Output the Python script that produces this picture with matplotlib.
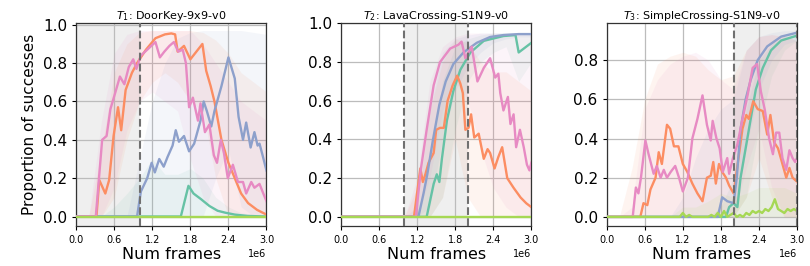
import matplotlib.pyplot as plt
import numpy as np

# colours of the five runs (Set2)
green, orange, blue, pink, lime = '#66c2a5', '#fc8d62', '#8da0cb', '#e78ac3', '#a6d854'

titles = ['$T_1$: DoorKey-9x9-v0', '$T_2$: LavaCrossing-S1N9-v0', '$T_3$: SimpleCrossing-S1N9-v0']
xticks = [0.0, 0.6, 1.2, 1.8, 2.4, 3.0]

# ---- panel 1: DoorKey (x in 1e6 frames) ----
d1_green_x = [0, 1.65, 1.77, 1.85, 1.97, 2.1, 2.23, 2.35, 2.5, 2.7, 3.0]
d1_green_y = [0, 0, 0.16, 0.12, 0.09, 0.055, 0.03, 0.02, 0.01, 0.003, 0.0]
d1_orange_x = [0, 0.32, 0.365, 0.46, 0.52, 0.59, 0.66, 0.71, 0.78, 0.88, 0.96, 1.1, 1.25, 1.4,
               1.5, 1.56, 1.6, 1.7, 1.8, 1.99, 2.05, 2.12, 2.18, 2.29, 2.4, 2.5, 2.6, 2.71, 2.85, 3.0]
d1_orange_y = [0, 0, 0.19, 0.12, 0.19, 0.42, 0.57, 0.45, 0.66, 0.75, 0.80, 0.87, 0.93, 0.95,
               0.955, 0.95, 0.86, 0.89, 0.82, 0.90, 0.76, 0.68, 0.60, 0.40, 0.28, 0.20, 0.12, 0.07, 0.035, 0.01]
d1_blue_x = [0, 0.96, 1.02, 1.12, 1.19, 1.24, 1.31, 1.38, 1.44, 1.52, 1.57, 1.62, 1.70, 1.78, 1.86,
             1.96, 2.01, 2.06, 2.13, 2.18, 2.29, 2.40, 2.50, 2.56, 2.63, 2.68, 2.75, 2.81, 2.86, 2.89, 2.93, 3.0]
d1_blue_y = [0, 0, 0.13, 0.20, 0.28, 0.23, 0.30, 0.26, 0.31, 0.37, 0.45, 0.39, 0.42, 0.34, 0.38,
             0.50, 0.60, 0.55, 0.47, 0.55, 0.68, 0.83, 0.72, 0.52, 0.40, 0.49, 0.36, 0.44, 0.37, 0.38, 0.33, 0.24]
d1_pink_x = [0, 0.31, 0.41, 0.48, 0.54, 0.62, 0.69, 0.76, 0.83, 0.90, 0.95, 1.02, 1.12, 1.25, 1.32,
             1.39, 1.47, 1.54, 1.61, 1.68, 1.73, 1.78, 1.84, 1.92, 1.96, 2.03, 2.10, 2.17, 2.22, 2.28,
             2.33, 2.39, 2.47, 2.55, 2.63, 2.68, 2.76, 2.81, 2.89, 2.95, 3.0]
d1_pink_y = [0, 0, 0.40, 0.42, 0.56, 0.65, 0.73, 0.69, 0.78, 0.82, 0.77, 0.84, 0.87, 0.91, 0.83,
             0.86, 0.89, 0.91, 0.86, 0.87, 0.80, 0.57, 0.62, 0.50, 0.59, 0.44, 0.48, 0.32, 0.28, 0.40,
             0.33, 0.20, 0.27, 0.18, 0.18, 0.12, 0.18, 0.15, 0.17, 0.12, 0.08]
d1_lime_x = [0, 3.0]
d1_lime_y = [0, 0]

# ---- panel 2: LavaCrossing ----
d2_green_x = [0, 1.35, 1.46, 1.51, 1.55, 1.59, 1.67, 1.77, 1.88, 2.04, 2.25, 2.56, 2.75, 2.80, 2.88, 3.0]
d2_green_y = [0, 0, 0.17, 0.22, 0.18, 0.30, 0.50, 0.65, 0.76, 0.85, 0.91, 0.935, 0.94, 0.85, 0.87, 0.90]
d2_orange_x = [0, 1.15, 1.25, 1.29, 1.33, 1.38, 1.46, 1.50, 1.56, 1.62, 1.68, 1.76, 1.83, 1.88, 1.92,
               1.96, 2.01, 2.05, 2.10, 2.17, 2.25, 2.31, 2.35, 2.42, 2.48, 2.54, 2.62, 2.72, 2.83, 2.92, 3.0]
d2_orange_y = [0, 0, 0.25, 0.18, 0.22, 0.28, 0.33, 0.45, 0.46, 0.46, 0.60, 0.68, 0.73, 0.69, 0.64,
               0.45, 0.46, 0.53, 0.41, 0.43, 0.30, 0.35, 0.33, 0.25, 0.31, 0.36, 0.20, 0.15, 0.10, 0.07, 0.05]
d2_blue_x = [0, 1.22, 1.30, 1.36, 1.45, 1.55, 1.65, 1.77, 1.93, 2.14, 2.35, 2.56, 2.8, 3.0]
d2_blue_y = [0, 0, 0.12, 0.22, 0.40, 0.58, 0.70, 0.79, 0.85, 0.90, 0.93, 0.94, 0.945, 0.945]
d2_pink_x = [0, 1.18, 1.26, 1.35, 1.46, 1.56, 1.72, 1.85, 1.90, 1.96, 2.06, 2.15, 2.25, 2.35, 2.43,
             2.48, 2.51, 2.56, 2.63, 2.67, 2.72, 2.76, 2.82, 2.88, 2.93, 2.97, 3.0]
d2_pink_y = [0, 0, 0.25, 0.45, 0.68, 0.80, 0.87, 0.89, 0.906, 0.82, 0.88, 0.70, 0.77, 0.82, 0.72,
             0.74, 0.64, 0.55, 0.62, 0.48, 0.53, 0.36, 0.45, 0.36, 0.27, 0.24, 0.28]
d2_lime_x = [0, 3.0]
d2_lime_y = [0, 0]

# ---- panel 3: SimpleCrossing ----
d3_green_x = [0, 1.88, 1.93, 2.0, 2.06, 2.11, 2.19, 2.27, 2.35, 2.46, 2.59, 2.75, 3.0]
d3_green_y = [0, 0, 0.05, 0.07, 0.05, 0.20, 0.35, 0.50, 0.65, 0.76, 0.85, 0.90, 0.925]
d3_orange_x = [0, 0.53, 0.58, 0.64, 0.69, 0.77, 0.82, 0.87, 0.95, 1.0, 1.06, 1.13, 1.2, 1.27, 1.35,
               1.43, 1.51, 1.58, 1.64, 1.68, 1.72, 1.77, 1.82, 1.88, 1.93, 2.0, 2.06, 2.14, 2.2,
               2.24, 2.31, 2.38, 2.46, 2.53, 2.58, 2.64, 2.7, 2.77, 2.83, 2.88, 2.93, 3.0]
d3_orange_y = [0, 0, 0.07, 0.06, 0.14, 0.20, 0.33, 0.27, 0.47, 0.45, 0.36, 0.36, 0.27, 0.23, 0.17,
               0.12, 0.08, 0.20, 0.21, 0.28, 0.17, 0.27, 0.23, 0.20, 0.16, 0.12, 0.26, 0.45, 0.52,
               0.50, 0.59, 0.55, 0.54, 0.42, 0.52, 0.38, 0.35, 0.27, 0.20, 0.25, 0.20, 0.18]
d3_blue_x = [0, 1.75, 1.82, 1.9, 2.0, 2.05, 2.11, 2.19, 2.27, 2.38, 2.53, 2.75, 3.0]
d3_blue_y = [0, 0, 0.10, 0.08, 0.07, 0.20, 0.45, 0.60, 0.70, 0.80, 0.87, 0.92, 0.94]
d3_pink_x = [0, 0.41, 0.46, 0.5, 0.54, 0.61, 0.66, 0.74, 0.79, 0.85, 0.9, 0.95, 1.01, 1.08, 1.14,
             1.2, 1.28, 1.35, 1.43, 1.51, 1.58, 1.64, 1.67, 1.73, 1.78, 1.83, 1.9, 1.93, 1.99, 2.06,
             2.14, 2.22, 2.3, 2.37, 2.43, 2.49, 2.56, 2.62, 2.67, 2.72, 2.77, 2.83, 2.88, 2.93, 2.97, 3.0]
d3_pink_y = [0, 0, 0.15, 0.12, 0.20, 0.39, 0.32, 0.22, 0.26, 0.20, 0.24, 0.20, 0.23, 0.26, 0.20,
             0.13, 0.20, 0.40, 0.50, 0.62, 0.47, 0.39, 0.49, 0.40, 0.35, 0.23, 0.30, 0.22, 0.30, 0.37,
             0.50, 0.62, 0.76, 0.78, 0.64, 0.55, 0.40, 0.32, 0.43, 0.43, 0.30, 0.24, 0.34, 0.30, 0.28, 0.30]
d3_lime_x = [0, 1.15, 1.2, 1.25, 1.3, 1.35, 1.6, 1.65, 1.7, 1.75, 1.8, 1.85, 1.9, 1.95, 2.0, 2.05,
             2.1, 2.15, 2.2, 2.25, 2.3, 2.35, 2.4, 2.45, 2.5, 2.55, 2.6, 2.65, 2.7, 2.75, 2.8, 2.85,
             2.9, 2.95, 3.0]
d3_lime_y = [0, 0, 0.02, 0.0, 0.01, 0, 0, 0.01, 0, 0.02, 0.0, 0.03, 0, 0.01, 0.02, 0.0,
             0.01, 0.0, 0.02, 0.01, 0.03, 0.02, 0.03, 0.02, 0.04, 0.03, 0.05, 0.09, 0.04, 0.03, 0.02, 0.04,
             0.03, 0.04, 0.03]

# ---- std bands, on a coarse grid ----
bx = [0.0, 0.2, 0.4, 0.6, 0.8, 1.0, 1.2, 1.4, 1.6, 1.8, 2.0, 2.2, 2.4, 2.6, 2.8, 3.0]
zero = [0] * 16

b1_green_hi = [0, 0, 0, 0.05, 0.12, 0.2, 0.3, 0.22, 0.22, 0.25, 0.2, 0.1, 0.05, 0.02, 0.01, 0]
b1_orange_hi = [0, 0, 0.35, 0.75, 0.9, 0.96, 0.97, 0.97, 0.97, 0.97, 0.96, 0.92, 0.85, 0.75, 0.7, 0.65]
b1_orange_lo = [0, 0, 0, 0.1, 0.4, 0.6, 0.7, 0.75, 0.7, 0.6, 0.55, 0.2, 0, 0, 0, 0]
b1_blue_hi = [0, 0, 0, 0, 0, 0.3, 0.6, 0.8, 0.93, 0.96, 0.97, 0.97, 0.97, 0.97, 0.96, 0.95]
b1_blue_lo = [0, 0, 0, 0, 0, 0, 0, 0, 0, 0, 0, 0.2, 0.35, 0.05, 0, 0]
b1_pink_hi = [0, 0, 0.5, 0.85, 0.95, 0.97, 0.97, 0.97, 0.97, 0.97, 0.9, 0.8, 0.7, 0.6, 0.55, 0.5]
b1_pink_lo = [0, 0, 0, 0.15, 0.45, 0.6, 0.65, 0.6, 0.55, 0.3, 0.1, 0, 0, 0, 0, 0]

b2_green_hi = [0, 0, 0, 0, 0, 0, 0, 0.3, 0.7, 0.88, 0.92, 0.94, 0.95, 0.95, 0.95, 0.95]
b2_green_lo = [0, 0, 0, 0, 0, 0, 0, 0, 0.1, 0.45, 0.7, 0.8, 0.85, 0.88, 0.7, 0.8]
b2_orange_hi = [0, 0, 0, 0, 0, 0, 0.15, 0.55, 0.8, 0.92, 0.9, 0.8, 0.75, 0.75, 0.7, 0.65]
b2_orange_lo = [0, 0, 0, 0, 0, 0, 0, 0, 0.1, 0.4, 0.1, 0, 0, 0, 0, 0]
b2_blue_hi = [0, 0, 0, 0, 0, 0, 0.05, 0.55, 0.85, 0.92, 0.94, 0.95, 0.95, 0.95, 0.95, 0.95]
b2_blue_lo = [0, 0, 0, 0, 0, 0, 0, 0.05, 0.4, 0.65, 0.78, 0.85, 0.9, 0.92, 0.93, 0.93]
b2_pink_hi = [0, 0, 0, 0, 0, 0, 0.2, 0.7, 0.88, 0.93, 0.95, 0.95, 0.95, 0.95, 0.95, 0.95]
b2_pink_lo = [0, 0, 0, 0, 0, 0, 0, 0.2, 0.55, 0.7, 0.6, 0.35, 0.15, 0.05, 0, 0]

b3_green_hi = [0, 0, 0, 0, 0, 0, 0, 0, 0, 0.05, 0.2, 0.55, 0.8, 0.88, 0.92, 0.94]
b3_green_lo = [0, 0, 0, 0, 0, 0, 0, 0, 0, 0, 0, 0.1, 0.45, 0.72, 0.85, 0.9]
b3_orange_hi = [0, 0, 0.25, 0.6, 0.78, 0.82, 0.84, 0.82, 0.75, 0.7, 0.72, 0.85, 0.92, 0.93, 0.92, 0.9]
b3_orange_lo = [0, 0, 0, 0, 0, 0, 0, 0, 0, 0, 0, 0.1, 0.3, 0.1, 0, 0]
b3_blue_hi = [0, 0, 0, 0, 0, 0, 0.1, 0.3, 0.45, 0.55, 0.6, 0.85, 0.92, 0.94, 0.95, 0.95]
b3_blue_lo = [0, 0, 0, 0, 0, 0, 0, 0, 0, 0, 0, 0.35, 0.65, 0.8, 0.88, 0.9]
b3_pink_hi = [0, 0, 0.05, 0.55, 0.7, 0.78, 0.82, 0.84, 0.8, 0.7, 0.65, 0.85, 0.92, 0.93, 0.92, 0.9]
b3_pink_lo = [0, 0, 0, 0, 0, 0, 0, 0, 0, 0, 0, 0.25, 0.45, 0.15, 0, 0]
b3_lime_hi = [0, 0, 0, 0, 0, 0, 0.05, 0.05, 0.08, 0.12, 0.1, 0.12, 0.15, 0.15, 0.15, 0.12]

# shaded task window, dashed boundaries, y limits
spans = [(0.0, 1.0), (1.0, 2.0), (2.0, 3.0)]
dashes = [[1.0], [1.0, 2.0], [2.0, 3.0]]
ylims = [(-0.05, 1.01), (-0.048, 1.003), (-0.047, 0.99)]

panels = [
    [(d1_green_x, d1_green_y, green), (d1_orange_x, d1_orange_y, orange), (d1_blue_x, d1_blue_y, blue),
     (d1_pink_x, d1_pink_y, pink), (d1_lime_x, d1_lime_y, lime)],
    [(d2_green_x, d2_green_y, green), (d2_orange_x, d2_orange_y, orange), (d2_blue_x, d2_blue_y, blue),
     (d2_pink_x, d2_pink_y, pink), (d2_lime_x, d2_lime_y, lime)],
    [(d3_green_x, d3_green_y, green), (d3_orange_x, d3_orange_y, orange), (d3_blue_x, d3_blue_y, blue),
     (d3_pink_x, d3_pink_y, pink), (d3_lime_x, d3_lime_y, lime)],
]
bands = [
    [(zero, b1_green_hi, green), (b1_orange_lo, b1_orange_hi, orange), (b1_blue_lo, b1_blue_hi, blue),
     (b1_pink_lo, b1_pink_hi, pink)],
    [(b2_green_lo, b2_green_hi, green), (b2_orange_lo, b2_orange_hi, orange), (b2_blue_lo, b2_blue_hi, blue),
     (b2_pink_lo, b2_pink_hi, pink)],
    [(b3_green_lo, b3_green_hi, green), (b3_orange_lo, b3_orange_hi, orange), (b3_blue_lo, b3_blue_hi, blue),
     (b3_pink_lo, b3_pink_hi, pink), (zero, b3_lime_hi, lime)],
]

fig = plt.figure(figsize=(8.1, 2.66), dpi=100)
lefts = [0.094, 0.421, 0.749]
bx_f = np.array(bx) * 1e6

for i in range(3):
    ax = fig.add_axes([lefts[i], 0.150, 0.235, 0.764])
    ax.set_axisbelow(True)
    ax.grid(True, color='#bcbcbc', linewidth=0.9)
    ax.axvspan(spans[i][0] * 1e6, spans[i][1] * 1e6, color='#808080', alpha=0.12, lw=0, zorder=0.5)

    for lo, hi, c in bands[i]:
        ax.fill_between(bx_f, lo, hi, color=c, alpha=0.09, lw=0, zorder=1)
    for xs, ys, c in panels[i]:
        ax.plot(np.array(xs) * 1e6, ys, color=c, lw=1.7, zorder=3)
    for d in dashes[i]:
        ax.axvline(d * 1e6, color='#707070', ls='--', lw=1.5, zorder=4)

    ax.set_xlim(0, 3e6)
    ax.set_ylim(*ylims[i])
    ax.set_xticks(np.array(xticks) * 1e6)
    ax.tick_params(axis='x', labelsize=7, length=3)
    ax.tick_params(axis='y', labelsize=11, length=3)
    ax.xaxis.get_offset_text().set_fontsize(7)
    ax.set_title(titles[i], fontsize=8, pad=3)
    ax.set_xlabel('Num frames', fontsize=11.5, labelpad=1)
    for s in ax.spines.values():
        s.set_color('#333333')
        s.set_linewidth(0.9)

fig.axes[0].set_ylabel('Proportion of successes', fontsize=11)

plt.savefig('out.png', dpi=100)
